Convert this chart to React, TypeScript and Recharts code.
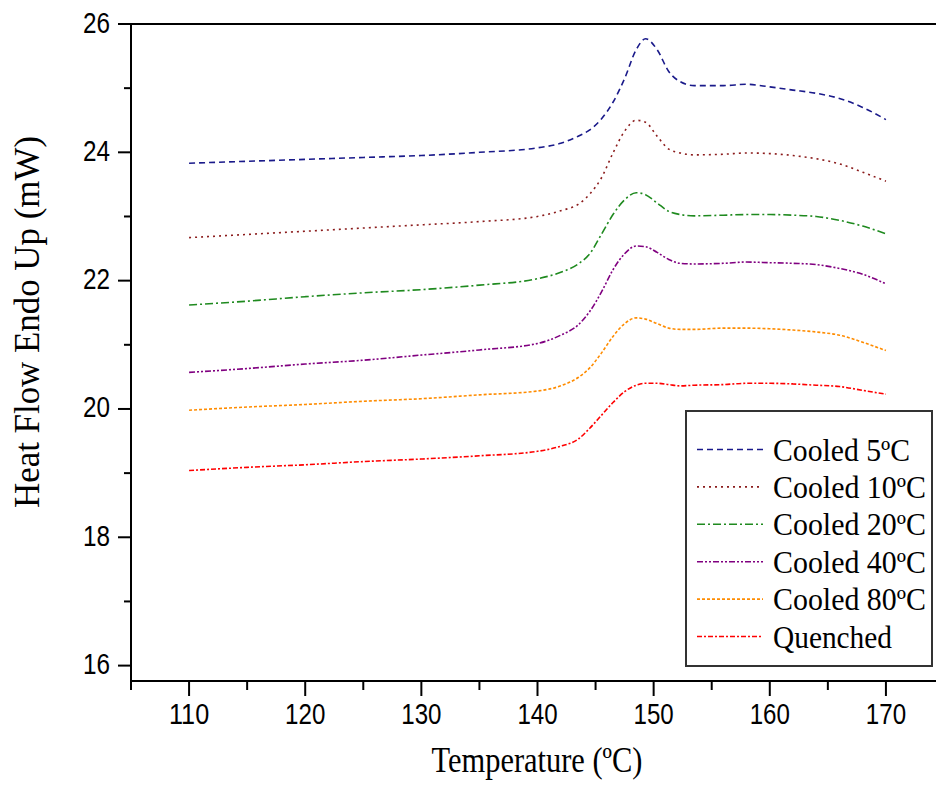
import React from "react";
import { LineChart, Line, XAxis, YAxis, ReferenceLine, Customized } from "recharts";

const temps = [110, 115, 120, 125, 130, 135, 140, 142, 143.5, 144.5, 145.5, 146.5, 147.5, 148.5, 149.3, 150.3, 151.3, 152.3, 153.5, 156, 158, 160, 162, 164, 166, 168, 170];
const cooled5 = [23.83, 23.86, 23.89, 23.92, 23.95, 24.0, 24.07, 24.14, 24.25, 24.35, 24.52, 24.78, 25.15, 25.6, 25.77, 25.6, 25.26, 25.1, 25.04, 25.04, 25.06, 25.02, 24.97, 24.92, 24.84, 24.7, 24.51];
const cooled10 = [22.67, 22.72, 22.77, 22.82, 22.87, 22.92, 23.0, 23.09, 23.19, 23.35, 23.6, 23.99, 24.33, 24.5, 24.47, 24.25, 24.05, 23.99, 23.96, 23.97, 23.99, 23.98, 23.95, 23.9, 23.82, 23.69, 23.55];
const cooled20 = [21.62, 21.68, 21.75, 21.81, 21.86, 21.93, 22.03, 22.13, 22.26, 22.42, 22.72, 23.03, 23.26, 23.37, 23.34, 23.21, 23.08, 23.03, 23.01, 23.02, 23.03, 23.03, 23.02, 23.0, 22.94, 22.85, 22.73];
const cooled40 = [20.57, 20.63, 20.7, 20.76, 20.84, 20.92, 21.02, 21.15, 21.31, 21.52, 21.82, 22.17, 22.42, 22.54, 22.53, 22.44, 22.33, 22.27, 22.26, 22.27, 22.29, 22.28, 22.27, 22.25, 22.19, 22.1, 21.95];
const cooled80 = [19.98, 20.03, 20.07, 20.12, 20.16, 20.22, 20.28, 20.36, 20.49, 20.64, 20.87, 21.13, 21.33, 21.42, 21.4, 21.33, 21.26, 21.24, 21.24, 21.26, 21.26, 21.25, 21.23, 21.2, 21.15, 21.04, 20.91];
const quenched = [19.04, 19.09, 19.13, 19.18, 19.22, 19.27, 19.34, 19.42, 19.53, 19.7, 19.9, 20.1, 20.27, 20.37, 20.4, 20.4, 20.38, 20.36, 20.37, 20.38, 20.4, 20.4, 20.39, 20.37, 20.35, 20.29, 20.23];

const xTicks = [105, 110, 115, 120, 125, 130, 135, 140, 145, 150, 155, 160, 165, 170, 175];
const yTicks = [16, 17, 18, 19, 20, 21, 22, 23, 24, 25, 26];

const series = [
  { key: "c5", name: "Cooled 5ºC", values: cooled5, color: "#1a1a8a", dash: "6 4", w: 137 },
  { key: "c10", name: "Cooled 10ºC", values: cooled10, color: "#8b1c1c", dash: "2 4", w: 153 },
  { key: "c20", name: "Cooled 20ºC", values: cooled20, color: "#1f8a1f", dash: "8 3 2 3", w: 153 },
  { key: "c40", name: "Cooled 40ºC", values: cooled40, color: "#800080", dash: "6 2 2 2 2 2", w: 153 },
  { key: "c80", name: "Cooled 80ºC", values: cooled80, color: "#ff8c00", dash: "3 2", w: 153 },
  { key: "q", name: "Quenched", values: quenched, color: "#ff0000", dash: "5 2 2 2", w: 119 },
];

const data = temps.map((t, i) => {
  const row: any = { t };
  series.forEach((s) => (row[s.key] = s.values[i]));
  return row;
});

const SANS = "'Liberation Sans', Arial, sans-serif";
const SERIF = "'Liberation Serif', 'Times New Roman', serif";

const XTick = (props: any) => {
  const { x, y, payload } = props;
  const v = payload.value;
  const major = v % 10 === 0;
  return (
    <g>
      <line x1={x} x2={x} y1={y} y2={y + (major ? 15 : 9)} stroke="#000" strokeWidth={2} />
      {major && (
        <text x={x} y={y + 43} textAnchor="middle" fontSize={29} fontFamily={SANS} fill="#000"
          textLength={13.4 * String(v).length} lengthAdjust="spacingAndGlyphs">{v}</text>
      )}
    </g>
  );
};

const YTick = (props: any) => {
  const { x, y, payload } = props;
  const v = payload.value;
  const major = v % 2 === 0;
  return (
    <g>
      <line x1={x} x2={x - (major ? 13 : 7)} y1={y} y2={y} stroke="#000" strokeWidth={2} />
      {major && (
        <text x={x - 21} y={y + 8.5} textAnchor="end" fontSize={29} fontFamily={SANS} fill="#000"
          textLength={13.5 * String(v).length} lengthAdjust="spacingAndGlyphs">{v}</text>
      )}
    </g>
  );
};

const Decorations = () => {
  const bx = 686, by = 411, bw = 246, bh = 255;
  return (
    <g>
      <text x={537} y={772} textAnchor="middle" fontSize={35} fontFamily={SERIF} fill="#000"
        textLength={211} lengthAdjust="spacingAndGlyphs">Temperature (ºC)</text>
      <text x={39} y={322} transform="rotate(-90, 39, 322)" textAnchor="middle" fontSize={35}
        fontFamily={SERIF} fill="#000" textLength={372} lengthAdjust="spacingAndGlyphs">Heat Flow Endo Up (mW)</text>
      <rect x={bx} y={by} width={bw} height={bh} fill="#fff" stroke="#333" strokeWidth={2} />
      {series.map((s, i) => {
        const yy = 449.5 + i * 37.4;
        return (
          <g key={s.key}>
            <line x1={697} x2={763} y1={yy} y2={yy} stroke={s.color} strokeWidth={1.6} strokeDasharray={s.dash} />
            <text x={773} y={yy + 11} fontSize={31} fontFamily={SERIF} fill="#000"
              textLength={s.w} lengthAdjust="spacingAndGlyphs">{s.name}</text>
          </g>
        );
      })}
    </g>
  );
};

export default function App() {
  return (
    <div style={{ position: "absolute", left: 0, top: 0, width: 936, height: 785, overflow: "hidden", background: "#fff" }}>
      <LineChart width={944} height={785} data={data} margin={{ top: 24, right: 0, bottom: 0, left: 0 }}>
        <XAxis dataKey="t" type="number" domain={[105, 175]} ticks={xTicks} interval={0} height={104}
          tickSize={0} tickMargin={0} tickLine={false} axisLine={{ stroke: "#000", strokeWidth: 2 }} tick={<XTick />} />
        <YAxis type="number" domain={[15.76, 26]} ticks={yTicks} interval={0} width={131} allowDataOverflow
          tickSize={0} tickMargin={0} tickLine={false} axisLine={{ stroke: "#000", strokeWidth: 2 }} tick={<YTick />} />
        <ReferenceLine y={26} stroke="#000" strokeWidth={2} />
        {series.map((s) => (
          <Line key={s.key} dataKey={s.key} name={s.name} type="monotone" stroke={s.color} strokeWidth={1.6}
            strokeDasharray={s.dash} dot={false} isAnimationActive={false} />
        ))}
        <Customized component={Decorations} />
      </LineChart>
    </div>
  );
}
